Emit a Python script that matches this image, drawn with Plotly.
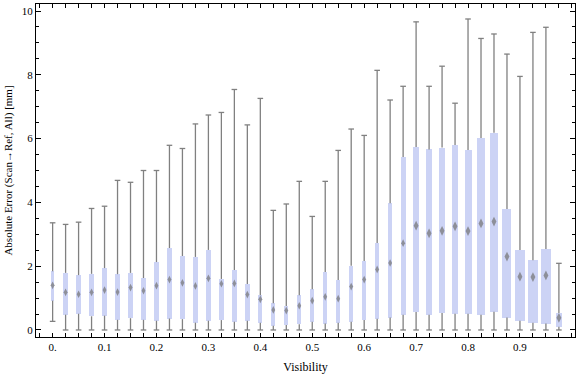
import plotly.graph_objects as go

# ---- data ----
visibility = [0.000, 0.025, 0.050, 0.075, 0.100, 0.125, 0.150, 0.175, 0.200, 0.225,
              0.250, 0.275, 0.300, 0.325, 0.350, 0.375, 0.400, 0.425, 0.450, 0.475,
              0.500, 0.525, 0.550, 0.575, 0.600, 0.625, 0.650, 0.675, 0.700, 0.725,
              0.750, 0.775, 0.800, 0.825, 0.850, 0.875, 0.900, 0.925, 0.950, 0.975]
whisker_low = [0.27, 0, 0, 0, 0, 0, 0, 0, 0, 0,
               0, 0, 0, 0, 0, 0, 0, 0, 0, 0,
               0, 0, 0, 0, 0, 0, 0, 0, 0, 0,
               0, 0, 0, 0, 0, 0, 0, 0, 0, 0]
q1 = [0.92, 0.48, 0.51, 0.43, 0.45, 0.32, 0.37, 0.32, 0.29, 0.36,
      0.34, 0.23, 0.29, 0.31, 0.26, 0.29, 0.23, 0.13, 0.16, 0.18,
      0.26, 0.20, 0.23, 0.26, 0.31, 0.35, 0.39, 0.48, 0.56, 0.48,
      0.53, 0.51, 0.51, 0.48, 0.57, 0.39, 0.29, 0.23, 0.20, 0.10]
median = [1.40, 1.18, 1.12, 1.18, 1.25, 1.19, 1.33, 1.23, 1.39, 1.58,
          1.48, 1.38, 1.62, 1.45, 1.46, 1.11, 0.96, 0.63, 0.61, 0.76,
          0.92, 1.04, 0.98, 1.36, 1.58, 1.90, 2.10, 2.72, 3.27, 3.03,
          3.11, 3.25, 3.10, 3.34, 3.40, 2.30, 1.67, 1.66, 1.71, 0.38]
q3 = [1.84, 1.79, 1.72, 1.76, 1.94, 1.75, 1.79, 1.63, 2.13, 2.57,
      2.32, 2.29, 2.51, 1.60, 1.88, 1.44, 1.09, 0.84, 0.75, 1.09,
      1.28, 1.82, 1.57, 2.01, 2.16, 2.73, 3.97, 5.42, 5.74, 5.66,
      5.72, 5.80, 5.64, 6.02, 6.18, 3.79, 2.51, 2.19, 2.54, 0.53]
whisker_high = [3.36, 3.31, 3.38, 3.81, 3.88, 4.69, 4.63, 5.00, 5.00, 5.79,
                5.69, 6.46, 6.74, 6.82, 7.54, 6.43, 7.26, 3.75, 3.95, 4.66,
                3.56, 4.66, 5.63, 6.30, 6.10, 8.14, 7.21, 7.64, 9.66, 7.64,
                8.27, 7.11, 9.75, 9.14, 9.28, 8.65, 7.95, 9.33, 9.49, 2.09]
box_width = [0.0060, 0.0092, 0.0092, 0.0092, 0.0092, 0.0092, 0.0092, 0.0080, 0.0080, 0.0080,
             0.0087, 0.0087, 0.0096, 0.0087, 0.0087, 0.0087, 0.0080, 0.0080, 0.0080, 0.0080,
             0.0080, 0.0080, 0.0080, 0.0080, 0.0080, 0.0087, 0.0087, 0.0092, 0.0121, 0.0115,
             0.0115, 0.0115, 0.0135, 0.0140, 0.0173, 0.0173, 0.0192, 0.0192, 0.0206, 0.0115]
x_tick_vals = [0.0, 0.1, 0.2, 0.3, 0.4, 0.5, 0.6, 0.7, 0.8, 0.9]
x_tick_text = ["0.", "0.1", "0.2", "0.3", "0.4", "0.5", "0.6", "0.7", "0.8", "0.9"]
y_tick_vals = [0, 2, 4, 6, 8, 10]
y_tick_text = ["0", "2", "4", "6", "8", "10"]

BOX_FILL = "rgb(204,211,245)"
WHISKER = "#808080"
MEDIAN = "#727272"
FONT = "Liberation Serif"

fig = go.Figure()

# whisker segments (outside the box)
wx, wy = [], []
for x, lo, a, b, hi in zip(visibility, whisker_low, q1, q3, whisker_high):
    wx += [x, x, None, x, x, None]
    wy += [lo, a, None, b, hi, None]
fig.add_trace(go.Scatter(x=wx, y=wy, mode="lines",
                         line=dict(color=WHISKER, width=1.3),
                         hoverinfo="skip", showlegend=False))

# whisker caps
fig.add_trace(go.Scatter(x=visibility + visibility, y=whisker_low + whisker_high,
                         mode="markers",
                         marker=dict(symbol="line-ew", size=4,
                                     line=dict(color=WHISKER, width=1.3)),
                         hoverinfo="skip", showlegend=False))

# boxes
fig.add_trace(go.Bar(x=visibility, base=q1,
                     y=[b - a for a, b in zip(q1, q3)],
                     width=box_width,
                     marker=dict(color=BOX_FILL, line=dict(width=0)),
                     showlegend=False))

# median diamonds
med_size = [5.5 if w < 0.011 else 7 for w in box_width]
fig.add_trace(go.Scatter(x=visibility, y=median, mode="markers",
                         marker=dict(symbol="diamond-tall", size=med_size,
                                     color=MEDIAN, line=dict(width=0)),
                         showlegend=False))

axis_common = dict(showline=True, linecolor="black", linewidth=1, mirror="ticks",
                   ticks="inside", tickcolor="black", tickwidth=1,
                   showgrid=False, zeroline=False)

fig.update_layout(
    width=576, height=377,
    margin=dict(l=36, r=1, t=4, b=40),
    paper_bgcolor="white", plot_bgcolor="white",
    font=dict(family=FONT, size=11, color="black"),
    bargap=0,
    xaxis=dict(range=[-0.032, 1.006], tickmode="array",
               tickvals=x_tick_vals, ticktext=x_tick_text, ticklen=4,
               minor=dict(tick0=0, dtick=0.025, ticks="inside", ticklen=4,
                          tickcolor="black", tickwidth=1),
               title=dict(text="Visibility", font=dict(size=12), standoff=10),
               **axis_common),
    yaxis=dict(range=[-0.22, 10.22], tickmode="array",
               tickvals=y_tick_vals, ticktext=y_tick_text, ticklen=5,
               minor=dict(tick0=0, dtick=0.5, ticks="inside", ticklen=3,
                          tickcolor="black", tickwidth=1),
               title=dict(text="Absolute Error (Scan\u2192Ref, All) [mm]",
                          font=dict(size=11), standoff=6),
               **axis_common),
)

fig.write_html("out.html", config={"displayModeBar": False},
               post_script="document.body.style.margin='0';")
